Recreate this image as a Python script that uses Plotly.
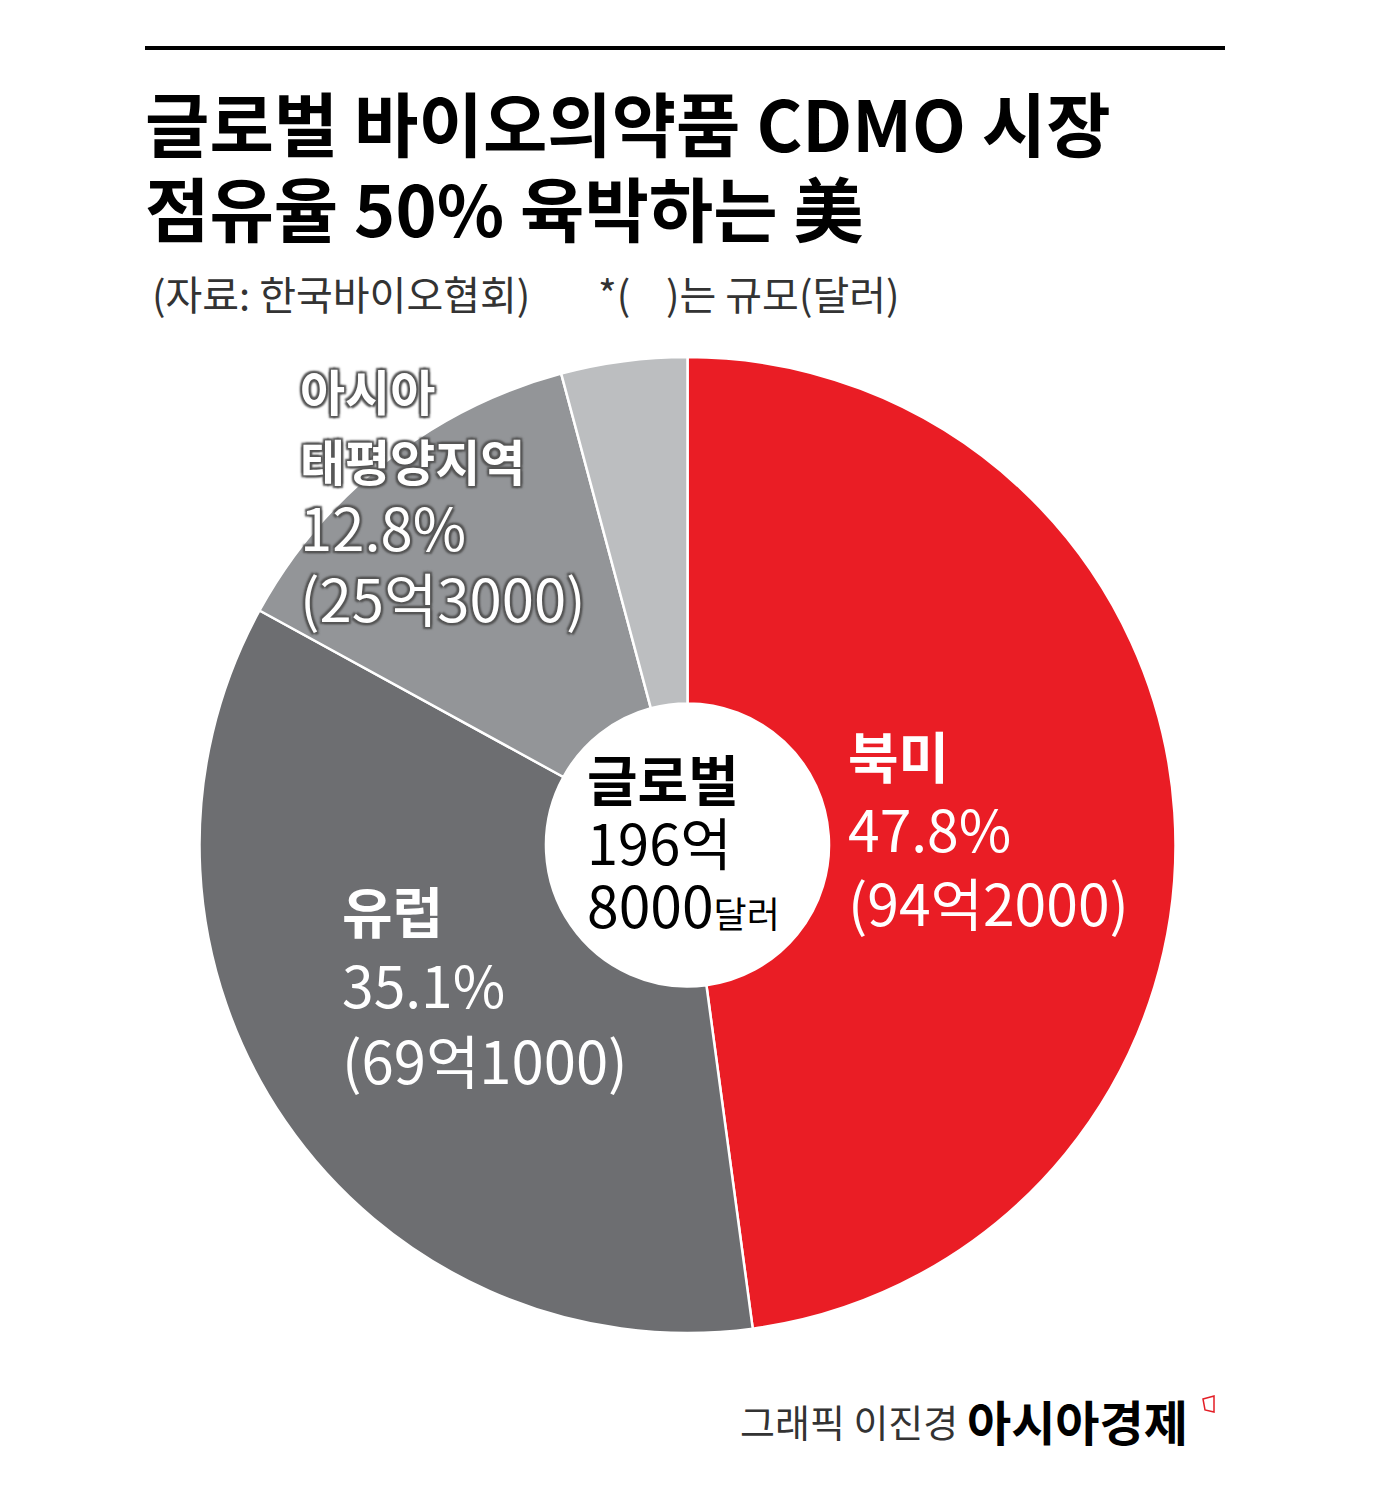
import plotly.graph_objects as go

# 지역별 시장 규모 (억 달러)
regions = ["북미", "유럽", "아시아 태평양지역", "기타"]
sizes = [94.2, 69.1, 25.3, 8.2]
pct_labels = ["47.8%", "35.1%", "12.8%", ""]
size_labels = ["(94억2000)", "(69억1000)", "(25억3000)", ""]
colors = ["#EA1D25", "#6D6E71", "#939598", "#BCBEC0"]
total_label = ["글로벌", "196억", "8000", "달러"]

W, H = 1398, 1506
FONT = "Noto Sans CJK KR"
OFF = 8  # body margin of the page


def px(x):
    return (x - OFF) / W


def py(y):
    return 1 - (y - OFF) / H


def span(s, size, bold=False):
    w = "font-weight:700;" if bold else ""
    return f"<span style='font-size:{size}px;{w}'>{s}</span>"


fig = go.Figure(go.Pie(
    labels=regions,
    values=sizes,
    sort=False,
    direction="clockwise",
    rotation=0,
    hole=0.29,
    textinfo="none",
    marker=dict(colors=colors, line=dict(color="white", width=2.5)),
    domain=dict(x=[px(195), px(1180)], y=[py(1333), py(357)]),
    showlegend=False,
))

ann = []


def txt(x, y, s, size, color="black", weight=400, shadow=None):
    f = dict(family=FONT, size=size, color=color, weight=weight)
    if shadow:
        f["shadow"] = shadow
    ann.append(dict(x=px(x), y=py(y), xref="paper", yref="paper", text=s,
                    showarrow=False, xanchor="left", yanchor="middle",
                    align="left", font=f))


# 제목 (두 줄)
txt(143, 164, span("글로벌 바이오의약품 CDMO 시장", 70) + "<br>" + span("점유율 50% 육박하는 美", 70),
    65, weight=700)
txt(150, 293, "(자료: 한국바이오협회)", 40, color="#333333")
txt(596, 293, "*(    )는 규모(달러)", 40, color="#333333")

# 북미
txt(846, 828, span(regions[0], 55, True) + "<br>" + pct_labels[0] + "<br>" + size_labels[0],
    57, color="white")

# 유럽
txt(340, 985, span(regions[1], 55, True) + "<br>" + span(pct_labels[1], 57) + "<br>" + size_labels[1],
    58, color="white")

# 아시아 태평양
outline = "-2px -2px 2px #555, 2px -2px 2px #555, -2px 2px 2px #555, 2px 2px 2px #555, 0 0 3px #555"
asia = regions[2].split(" ")
txt(298, 497,
    span(asia[0], 49, True) + "<br>" + span(asia[1], 49, True) + "<br>"
    + span(pct_labels[2], 58) + "<br>" + span(size_labels[2], 58),
    54, color="white", shadow=outline)

# 중앙
txt(585, 841,
    span(total_label[0], 55, True) + "<br>" + span(total_label[1], 56) + "<br>"
    + span(total_label[2], 57) + span(total_label[3], 36),
    49)

# 하단
txt(738, 1420, "그래픽 이진경", 38, color="#333333")
txt(965, 1420, "아시아경제", 48, weight=700)

fig.update_layout(
    width=W, height=H,
    margin=dict(l=0, r=0, t=0, b=0),
    paper_bgcolor="white",
    plot_bgcolor="white",
    annotations=ann,
    shapes=[
        dict(type="line", xref="paper", yref="paper",
             x0=px(145), x1=px(1225), y0=py(48), y1=py(48),
             line=dict(color="black", width=4)),
        dict(type="path", xref="paper", yref="paper",
             path=f"M {px(1203)} {py(1399)} L {px(1214)} {py(1396)} L {px(1214)} {py(1412)} L {px(1205)} {py(1410)} Z",
             line=dict(color="#E31E26", width=1.5)),
    ],
)

fig.write_html("out.html")
